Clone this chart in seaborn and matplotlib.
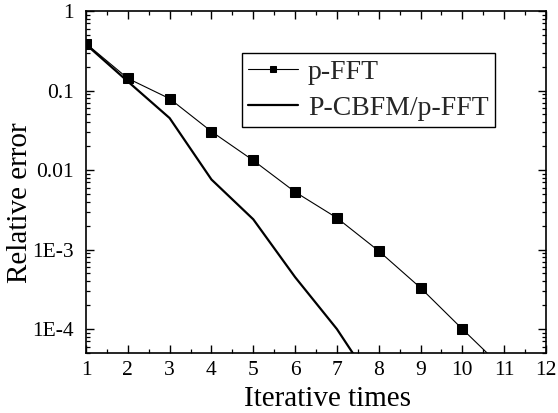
import numpy as np
import pandas as pd
import matplotlib
matplotlib.use("Agg")
import matplotlib.pyplot as plt
import seaborn as sns
from matplotlib.ticker import FixedLocator, FixedFormatter, LogLocator, NullFormatter, MultipleLocator

# ---- data ----
iters_pfft = [1, 2, 3, 4, 5, 6, 7, 8, 9, 10, 11]
err_pfft = [0.39, 0.142, 0.079, 0.0305, 0.0132, 0.0053, 0.0025, 0.00096, 0.00033, 0.0001, 0.000031]
iters_cbfm = [1, 2, 3, 4, 5, 6, 7, 8]
err_cbfm = [0.38, 0.13, 0.045, 0.0076, 0.0024, 0.00045, 0.0001, 0.000016]
series_names = ["p-FFT", "P-CBFM/p-FFT"]
xtick_vals = list(range(1, 13))
ytick_vals = [1, 0.1, 0.01, 1e-3, 1e-4]
ytick_labels = ["1", "0.1", "0.01", "1E-3", "1E-4"]

df1 = pd.DataFrame({"x": iters_pfft, "y": err_pfft, "series": series_names[0]})
df2 = pd.DataFrame({"x": iters_cbfm, "y": err_cbfm, "series": series_names[1]})

sns.set_theme(style="ticks")
plt.rcParams["font.family"] = ["Liberation Serif", "DejaVu Serif"]

fig = plt.figure(figsize=(5.58, 4.13), dpi=100)
ax = fig.add_axes([86/558, 1-353/413, (546-86)/558, (353-11)/413])

sns.lineplot(data=df1, x="x", y="y", ax=ax, color="black", linewidth=0.8,
             marker="s", markersize=6.5, markeredgecolor="black", markerfacecolor="black",
             label=series_names[0])
sns.lineplot(data=df2, x="x", y="y", ax=ax, color="black", linewidth=1.6,
             label=series_names[1])

ax.set_yscale("log")
ax.set_xlim(1, 12)
ax.set_ylim(5e-5, 1)

ax.xaxis.set_major_locator(FixedLocator(xtick_vals))
ax.xaxis.set_minor_locator(MultipleLocator(0.5))
ax.yaxis.set_major_locator(FixedLocator(ytick_vals))
ax.yaxis.set_major_formatter(FixedFormatter(ytick_labels))
ax.yaxis.set_minor_locator(LogLocator(base=10, subs=np.arange(2, 10)))
ax.yaxis.set_minor_formatter(NullFormatter())

for sp in ax.spines.values():
    sp.set_linewidth(1.2)
    sp.set_color("black")
    sp.set_visible(True)

ax.tick_params(axis="both", which="both", direction="in", top=True, right=True,
               colors="black", labelcolor="black")
ax.tick_params(axis="both", which="major", length=6, width=1.0, labelsize=15.5)
ax.tick_params(axis="both", which="minor", length=3, width=0.9)
ax.tick_params(axis="x", which="major", pad=6)
ax.tick_params(axis="y", which="major", pad=9)

ax.set_xlabel("Iterative times", fontsize=21, color="black")
ax.set_ylabel("Relative error", fontsize=21, color="black")
ax.xaxis.set_label_coords(0.526, -0.097)
ax.yaxis.set_label_coords(-0.115, 0.44)

leg = ax.legend(loc="upper left", bbox_to_anchor=((242-86)/460, (353-53)/342),
                borderaxespad=0, fontsize=20, frameon=True, fancybox=False,
                edgecolor="black", handlelength=1.8, handletextpad=0.35,
                borderpad=0.22, labelspacing=0.38, markerscale=0.7)
leg.get_frame().set_linewidth(1.0)
leg.get_frame().set_alpha(1)

fig.savefig("out.png", dpi=100)
